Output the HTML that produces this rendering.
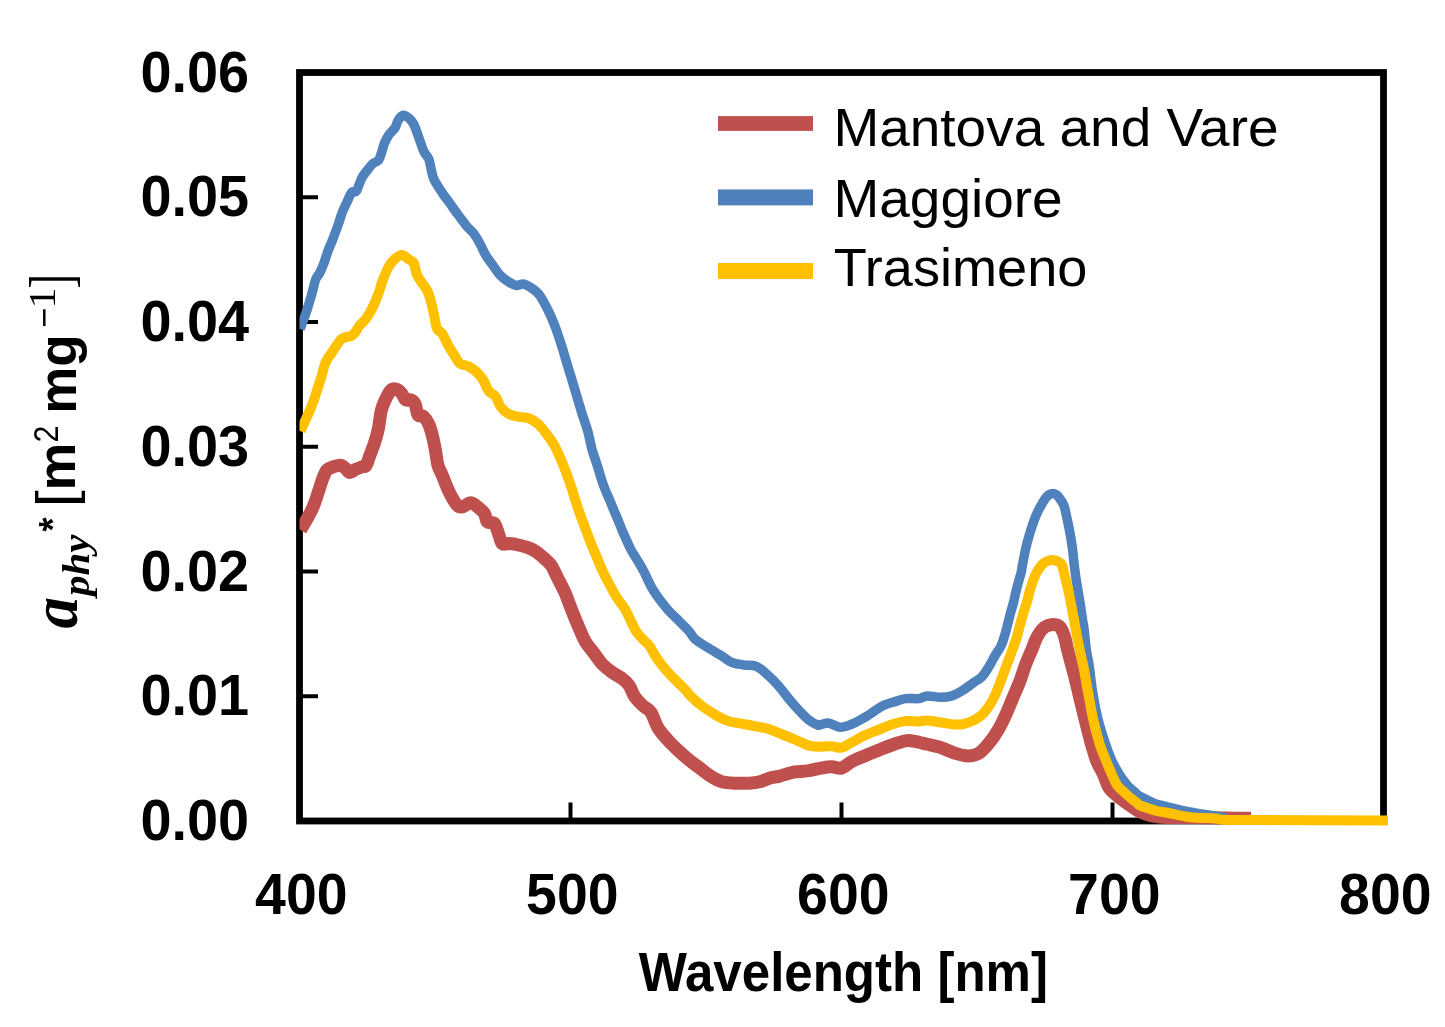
<!DOCTYPE html>
<html><head><meta charset="utf-8"><style>
html,body{margin:0;padding:0;background:#fff;}
svg{display:block;}
text{filter:grayscale(1);}
.t{font-family:"Liberation Sans",sans-serif;font-weight:bold;fill:#000;}
.lg{font-family:"Liberation Sans",sans-serif;font-size:50px;fill:#000;}
</style></head><body>
<svg width="1445" height="1027" viewBox="0 0 1445 1027">
<rect x="0" y="0" width="1445" height="1027" fill="#fff"/>
<g stroke="#000" stroke-width="6.8" fill="none">
<rect x="299.5" y="72.5" width="1084.0" height="748.5"/>
</g>
<g stroke="#000" stroke-width="4"><line x1="299.5" y1="197.25" x2="318.0" y2="197.25"/><line x1="299.5" y1="322.00" x2="318.0" y2="322.00"/><line x1="299.5" y1="446.75" x2="318.0" y2="446.75"/><line x1="299.5" y1="571.50" x2="318.0" y2="571.50"/><line x1="299.5" y1="696.25" x2="318.0" y2="696.25"/><line x1="570.50" y1="821.0" x2="570.50" y2="802.5"/><line x1="841.50" y1="821.0" x2="841.50" y2="802.5"/><line x1="1112.50" y1="821.0" x2="1112.50" y2="802.5"/></g>
<defs><clipPath id="pc"><rect x="299.5" y="0" width="1200" height="1027"/></clipPath></defs>
<g fill="none" stroke-linejoin="round" stroke-linecap="butt" clip-path="url(#pc)">
<path d="M300.5,530.0 C301.1,529.0 302.8,526.1 304.0,524.0 C305.2,521.9 306.4,520.0 308.0,517.1 C309.6,514.2 311.8,509.9 313.3,506.4 C314.8,502.9 316.0,499.0 317.0,496.0 C318.0,493.0 318.5,491.4 319.5,488.5 C320.5,485.6 321.6,481.4 322.8,478.4 C324.0,475.4 325.1,472.3 326.5,470.5 C327.9,468.7 329.9,468.2 331.5,467.5 C333.1,466.8 334.4,466.4 336.0,466.0 C337.6,465.6 339.4,464.9 341.0,465.3 C342.6,465.7 344.2,467.3 345.7,468.5 C347.2,469.7 348.2,472.3 349.8,472.5 C351.4,472.7 353.2,470.4 355.3,469.5 C357.4,468.6 360.3,467.5 362.1,466.8 C363.9,466.1 364.9,467.4 366.2,465.4 C367.5,463.3 368.8,458.1 370.2,454.5 C371.6,450.9 372.9,447.9 374.3,443.6 C375.7,439.3 377.2,434.1 378.4,428.6 C379.5,423.2 380.1,415.7 381.2,410.9 C382.3,406.1 383.6,403.4 385.2,400.0 C386.8,396.6 388.9,392.2 390.7,390.4 C392.5,388.6 394.3,388.6 396.1,389.1 C397.9,389.6 400.0,391.4 401.6,393.2 C403.2,395.0 404.1,398.9 405.7,400.0 C407.3,401.1 409.5,399.3 411.1,400.0 C412.7,400.7 414.1,401.6 415.2,404.1 C416.3,406.6 416.6,413.0 418.0,415.0 C419.4,417.0 421.6,414.7 423.4,416.3 C425.2,417.9 427.3,420.9 428.9,424.5 C430.5,428.1 431.9,433.6 433.0,438.2 C434.1,442.8 434.9,447.3 435.7,451.8 C436.5,456.3 436.9,461.5 438.0,465.4 C439.1,469.3 440.4,471.0 442.3,475.4 C444.2,479.8 446.6,486.8 449.1,491.8 C451.6,496.8 455.0,502.9 457.3,505.4 C459.6,507.9 460.4,507.2 462.7,506.8 C465.0,506.4 468.2,502.5 470.9,502.7 C473.6,502.9 476.8,506.4 479.1,508.2 C481.4,510.0 483.1,511.3 484.5,513.6 C485.9,515.9 485.7,520.2 487.3,521.8 C488.9,523.4 492.3,521.4 494.1,523.2 C495.9,525.0 496.9,529.3 498.2,532.7 C499.5,536.1 500.4,541.8 502.2,543.6 C504.0,545.4 506.4,543.4 509.1,543.6 C511.8,543.8 515.4,544.3 518.6,545.0 C521.8,545.7 525.2,546.6 528.1,547.7 C531.0,548.8 533.6,550.0 536.3,551.8 C539.0,553.6 542.0,556.3 544.5,558.6 C547.0,560.9 549.2,562.5 551.3,565.4 C553.3,568.3 555.6,574.0 556.8,576.3 C557.9,578.6 556.8,576.4 558.2,579.1 C559.6,581.8 562.7,587.5 565.0,592.7 C567.3,597.9 569.5,604.7 571.8,610.4 C574.1,616.1 576.3,621.6 578.6,626.8 C580.9,632.0 582.9,637.5 585.4,641.8 C587.9,646.1 590.9,649.1 593.6,652.7 C596.3,656.3 598.8,660.4 601.8,663.6 C604.8,666.8 607.9,669.3 611.3,671.8 C614.7,674.3 619.2,676.3 622.2,678.6 C625.2,680.9 627.1,682.5 629.1,685.4 C631.1,688.3 632.2,692.9 634.5,696.3 C636.8,699.6 640.0,702.8 642.7,705.5 C645.4,708.2 648.4,708.7 650.9,712.3 C653.4,715.9 655.0,722.8 657.7,727.3 C660.4,731.8 663.9,735.6 667.3,739.5 C670.7,743.4 674.6,747.0 678.2,750.4 C681.8,753.8 685.5,757.0 689.1,760.0 C692.7,763.0 696.4,765.5 700.0,768.2 C703.6,770.9 707.3,774.0 710.9,776.3 C714.5,778.6 717.7,780.6 721.8,781.8 C725.9,782.9 730.8,783.0 735.4,783.2 C740.0,783.4 745.0,783.4 749.1,783.2 C753.2,783.0 756.4,782.7 760.0,781.8 C763.6,780.9 767.7,778.6 770.9,777.7 C774.1,776.8 775.2,777.2 779.0,776.3 C782.8,775.4 788.9,773.1 793.6,772.2 C798.3,771.3 802.8,771.6 807.3,770.9 C811.8,770.2 816.8,768.8 820.9,768.1 C825.0,767.4 828.4,766.8 831.8,766.8 C835.2,766.8 837.9,769.0 841.3,768.1 C844.7,767.2 848.3,763.3 852.2,761.3 C856.1,759.3 860.2,757.7 864.5,755.9 C868.8,754.1 873.6,752.2 878.1,750.4 C882.6,748.6 887.2,746.6 891.8,745.0 C896.3,743.4 902.0,741.6 905.4,740.9 C908.8,740.2 909.9,740.7 912.2,740.9 C914.5,741.1 916.5,741.6 919.0,742.2 C921.5,742.8 923.6,743.4 927.3,744.3 C930.9,745.2 936.4,746.2 940.9,747.7 C945.4,749.2 950.0,751.7 954.5,753.1 C959.0,754.5 964.1,755.9 968.2,755.9 C972.3,755.9 975.7,755.1 979.1,753.1 C982.5,751.1 985.4,747.5 988.6,743.6 C991.8,739.8 995.2,735.0 998.1,730.0 C1001.0,725.0 1003.8,719.1 1006.3,713.6 C1008.8,708.1 1010.8,702.8 1013.1,697.3 C1015.4,691.8 1017.9,686.4 1020.0,680.9 C1022.1,675.4 1023.6,669.8 1025.7,664.3 C1027.8,658.8 1030.7,652.4 1032.5,648.0 C1034.3,643.6 1034.9,641.1 1036.5,638.0 C1038.1,634.9 1040.1,631.6 1042.0,629.5 C1043.9,627.4 1046.0,626.3 1047.9,625.5 C1049.8,624.7 1051.8,624.4 1053.6,624.5 C1055.4,624.6 1057.5,624.9 1059.0,626.0 C1060.5,627.1 1061.4,628.7 1062.5,631.0 C1063.6,633.3 1064.7,637.0 1065.5,640.0 C1066.3,643.0 1066.1,644.0 1067.3,648.7 C1068.5,653.4 1070.8,661.8 1072.5,668.2 C1074.2,674.6 1076.2,682.4 1077.3,687.0 C1078.4,691.6 1078.0,690.4 1079.3,695.8 C1080.6,701.2 1083.0,711.4 1085.0,719.2 C1087.0,727.0 1089.1,735.7 1091.0,742.6 C1092.9,749.5 1094.5,755.1 1096.5,760.4 C1098.5,765.6 1101.2,769.5 1103.3,774.1 C1105.4,778.7 1107.0,784.4 1109.0,787.7 C1111.0,791.0 1112.8,792.0 1115.0,794.0 C1117.2,796.0 1119.5,797.6 1122.0,799.5 C1124.5,801.4 1127.1,803.5 1130.0,805.5 C1132.9,807.5 1136.1,809.9 1139.2,811.5 C1142.3,813.1 1145.6,814.1 1148.5,815.0 C1151.4,815.9 1153.4,816.2 1156.7,816.6 C1160.0,817.0 1161.2,817.2 1168.4,817.4 C1175.6,817.6 1190.6,817.5 1200.0,817.6 C1209.4,817.7 1218.3,817.9 1225.0,818.0 C1231.7,818.1 1235.7,818.2 1240.0,818.3 C1244.3,818.3 1249.2,818.3 1251.0,818.3" stroke="#C0504D" stroke-width="13"/>
<path d="M300.0,329.0 C300.8,327.0 303.3,320.2 304.5,317.0 C305.7,313.8 305.8,313.8 307.0,310.0 C308.2,306.2 310.4,299.1 311.8,294.0 C313.2,288.9 314.4,283.1 315.7,279.5 C317.0,275.9 318.4,275.4 319.8,272.7 C321.2,270.0 322.5,266.8 323.9,263.2 C325.3,259.6 326.6,254.8 328.0,250.9 C329.4,247.0 330.8,244.5 332.5,240.0 C334.2,235.5 336.9,228.4 338.5,223.8 C340.1,219.2 340.9,215.8 342.3,212.2 C343.7,208.6 345.4,205.3 347.0,202.0 C348.6,198.7 350.1,194.1 351.7,192.3 C353.3,190.5 354.8,193.4 356.4,191.1 C358.0,188.8 359.9,181.7 361.6,178.3 C363.4,174.9 365.0,173.1 366.9,170.7 C368.8,168.3 370.8,165.4 372.7,163.7 C374.6,161.9 377.0,162.3 378.6,160.2 C380.2,158.0 381.1,153.6 382.1,150.8 C383.1,148.0 383.2,145.9 384.4,143.2 C385.6,140.5 387.4,137.0 389.1,134.5 C390.9,132.0 393.3,130.4 394.9,128.0 C396.4,125.6 397.0,122.0 398.4,119.9 C399.8,117.8 401.4,115.5 403.1,115.2 C404.9,114.9 407.1,116.6 408.9,118.1 C410.6,119.6 412.2,121.6 413.6,124.0 C415.0,126.4 415.9,129.6 417.1,132.7 C418.3,135.8 419.4,139.5 420.6,142.7 C421.8,145.9 422.7,149.3 424.1,152.0 C425.5,154.7 427.6,156.2 428.8,159.0 C430.0,161.8 430.3,165.7 431.1,168.9 C431.9,172.1 432.2,175.2 433.5,178.3 C434.8,181.4 436.9,184.5 438.6,187.3 C440.3,190.1 441.9,192.4 443.7,195.0 C445.5,197.6 447.6,200.2 449.5,202.8 C451.4,205.4 453.1,208.0 455.0,210.6 C456.9,213.2 458.9,215.8 460.8,218.4 C462.8,221.0 464.5,223.6 466.7,226.2 C468.9,228.8 471.8,230.9 474.1,234.0 C476.4,237.1 478.4,240.9 480.4,244.5 C482.4,248.1 483.8,252.0 485.9,255.4 C487.9,258.8 490.4,261.8 492.7,265.0 C495.0,268.2 497.0,271.8 499.5,274.5 C502.0,277.2 505.0,279.5 507.7,281.3 C510.4,283.1 513.2,284.9 515.9,285.4 C518.6,285.9 521.1,283.4 524.1,284.1 C527.1,284.8 531.1,287.8 533.6,289.5 C536.1,291.2 537.2,292.3 539.0,294.5 C540.8,296.7 542.1,299.1 544.1,302.7 C546.1,306.3 548.9,311.8 550.9,316.4 C552.9,320.9 554.6,325.0 556.4,330.0 C558.2,335.0 560.2,341.3 561.8,346.3 C563.4,351.3 564.5,355.4 565.9,360.0 C567.3,364.6 568.6,369.1 570.0,373.6 C571.4,378.1 572.7,382.6 574.1,387.2 C575.5,391.8 576.8,396.3 578.2,400.9 C579.6,405.4 580.7,409.5 582.3,414.5 C583.9,419.5 586.0,424.9 587.7,430.9 C589.4,436.9 590.6,444.4 592.3,450.4 C594.0,456.4 595.9,461.1 597.7,466.8 C599.5,472.5 601.2,478.8 603.2,484.5 C605.2,490.2 607.7,495.4 610.0,500.9 C612.3,506.3 614.5,511.8 616.8,517.2 C619.1,522.7 621.3,528.4 623.6,533.6 C625.9,538.8 627.9,543.8 630.4,548.6 C632.9,553.4 636.3,558.3 638.6,562.2 C640.9,566.1 641.7,567.3 644.2,572.1 C646.7,576.9 649.7,584.6 653.6,590.8 C657.5,597.0 663.3,604.4 667.6,609.5 C671.9,614.6 675.7,617.5 679.3,621.2 C682.9,624.9 686.7,628.5 689.3,631.5 C691.9,634.5 692.0,636.5 695.0,639.1 C698.0,641.7 703.0,644.6 707.3,647.3 C711.6,650.0 716.8,652.9 720.9,655.4 C725.0,657.9 727.9,660.7 731.8,662.3 C735.7,663.9 740.0,664.3 744.1,665.0 C748.2,665.7 752.4,664.7 756.3,666.3 C760.1,667.9 763.6,671.3 767.2,674.5 C770.8,677.7 774.5,681.3 778.1,685.4 C781.8,689.5 785.7,695.0 789.1,699.1 C792.5,703.2 795.4,706.6 798.6,710.0 C801.8,713.4 804.9,717.0 808.1,719.5 C811.3,722.0 815.6,724.2 817.7,725.0 C819.8,725.8 819.0,724.8 820.9,724.5 C822.8,724.2 825.9,722.7 829.1,723.2 C832.3,723.7 836.4,727.1 840.0,727.3 C843.6,727.5 847.3,725.9 850.9,724.5 C854.5,723.1 858.2,721.1 861.8,719.1 C865.4,717.1 869.1,714.6 872.7,712.3 C876.3,710.0 879.7,707.2 883.6,705.4 C887.5,703.6 892.3,702.5 895.9,701.4 C899.5,700.3 901.5,699.1 905.4,698.6 C909.2,698.1 915.4,699.1 919.0,698.6 C922.6,698.1 923.6,696.1 927.3,695.9 C930.9,695.7 936.8,697.3 940.9,697.3 C945.0,697.3 948.2,697.0 951.8,695.9 C955.4,694.8 959.3,692.4 962.7,690.4 C966.1,688.4 969.0,685.9 972.2,683.6 C975.4,681.3 979.1,679.5 981.8,676.8 C984.5,674.1 986.3,670.9 988.6,667.3 C990.9,663.7 993.3,658.5 995.4,655.0 C997.5,651.5 999.5,649.0 1001.0,646.0 C1002.5,643.0 1003.2,640.2 1004.3,636.7 C1005.4,633.2 1006.5,628.9 1007.5,625.0 C1008.5,621.1 1009.4,617.3 1010.4,613.4 C1011.4,609.5 1012.7,605.6 1013.7,601.7 C1014.7,597.8 1015.1,594.7 1016.3,590.0 C1017.5,585.3 1019.9,577.1 1020.9,573.4 C1021.9,569.7 1021.2,571.8 1022.0,567.6 C1022.8,563.4 1024.5,553.9 1025.8,548.2 C1027.1,542.5 1028.2,538.5 1029.7,533.6 C1031.2,528.7 1033.0,523.2 1034.6,519.0 C1036.2,514.8 1037.7,511.6 1039.5,508.2 C1041.3,504.8 1043.7,500.8 1045.3,498.5 C1046.9,496.2 1047.9,495.4 1049.2,494.6 C1050.5,493.8 1051.9,493.6 1053.1,493.6 C1054.3,493.6 1055.5,494.2 1056.5,494.8 C1057.5,495.4 1057.8,495.8 1059.0,497.5 C1060.2,499.2 1062.5,502.1 1063.8,505.3 C1065.1,508.6 1065.7,512.6 1066.7,517.0 C1067.7,521.4 1068.8,526.4 1069.7,531.6 C1070.7,536.8 1071.7,543.1 1072.4,548.2 C1073.1,553.3 1073.4,557.5 1073.9,562.0 C1074.4,566.5 1074.9,570.5 1075.5,575.0 C1076.1,579.5 1076.9,584.0 1077.7,588.9 C1078.5,593.8 1079.5,599.3 1080.3,604.5 C1081.1,609.7 1081.9,615.9 1082.6,620.1 C1083.2,624.4 1083.6,625.2 1084.2,630.0 C1084.8,634.8 1085.3,642.7 1086.2,649.0 C1087.1,655.3 1088.5,661.0 1089.5,668.0 C1090.5,675.0 1091.1,682.5 1092.5,691.0 C1093.9,699.5 1095.9,710.6 1098.0,719.2 C1100.1,727.8 1102.7,735.7 1105.0,742.6 C1107.3,749.5 1109.3,755.1 1111.7,760.4 C1114.1,765.6 1117.2,770.7 1119.2,774.1 C1121.2,777.5 1122.4,778.9 1124.0,781.0 C1125.6,783.1 1127.0,785.0 1129.0,787.0 C1131.0,789.0 1134.2,791.5 1135.9,793.0 C1137.6,794.5 1136.9,794.7 1139.2,796.0 C1141.5,797.3 1146.6,799.6 1149.5,801.0 C1152.4,802.4 1153.5,803.3 1156.7,804.3 C1159.9,805.3 1162.9,805.7 1168.4,807.0 C1173.9,808.3 1182.1,810.5 1189.8,812.0 C1197.5,813.5 1208.8,815.0 1214.8,816.0 C1220.8,817.0 1224.1,817.7 1226.0,818.0" stroke="#4F81BD" stroke-width="9.5"/>
<path d="M300.5,431.0 C301.2,429.3 303.5,424.4 305.0,421.0 C306.5,417.6 308.0,414.8 309.6,410.9 C311.2,406.9 313.5,401.1 314.8,397.3 C316.1,393.6 316.5,391.8 317.6,388.4 C318.7,385.0 320.2,380.6 321.4,376.7 C322.6,372.8 323.5,368.1 324.6,365.0 C325.7,361.9 326.9,359.9 328.0,358.0 C329.1,356.1 329.8,355.6 331.3,353.4 C332.8,351.2 335.5,346.9 337.1,344.6 C338.7,342.3 339.7,340.7 341.0,339.5 C342.3,338.3 343.3,337.9 345.0,337.3 C346.7,336.7 349.3,336.8 351.0,336.0 C352.7,335.2 353.6,334.2 355.0,332.5 C356.4,330.8 357.4,328.2 359.3,325.9 C361.2,323.5 363.9,321.6 366.2,318.4 C368.5,315.2 371.0,310.9 373.0,306.8 C375.0,302.7 376.8,298.1 378.4,293.8 C380.0,289.5 380.9,285.2 382.5,280.9 C384.1,276.6 386.2,271.4 388.0,268.0 C389.8,264.6 391.1,262.6 393.4,260.4 C395.7,258.2 399.1,255.2 401.6,255.0 C404.1,254.8 406.3,257.7 408.4,259.1 C410.4,260.5 412.5,260.7 413.9,263.2 C415.3,265.7 415.2,270.8 416.6,274.1 C418.0,277.4 420.2,280.1 422.0,282.9 C423.8,285.7 425.9,287.6 427.5,291.1 C429.1,294.6 430.5,299.9 431.6,304.1 C432.7,308.3 433.4,312.2 434.3,316.3 C435.2,320.4 435.7,325.7 437.0,328.6 C438.3,331.5 440.5,331.0 442.3,333.6 C444.1,336.2 445.7,340.9 447.7,344.5 C449.7,348.1 452.4,352.2 454.5,355.4 C456.6,358.6 457.7,361.8 460.0,363.6 C462.3,365.4 465.5,364.9 468.2,366.3 C470.9,367.7 473.8,369.5 476.3,371.8 C478.8,374.1 481.1,376.8 483.2,380.0 C485.2,383.2 486.6,388.2 488.6,390.9 C490.6,393.6 493.3,393.6 495.4,396.3 C497.4,399.0 498.6,404.2 500.9,407.2 C503.2,410.2 506.2,412.5 509.1,414.1 C512.1,415.7 515.4,416.1 518.6,416.8 C521.8,417.5 524.9,417.0 528.1,418.1 C531.3,419.2 534.7,421.1 537.7,423.6 C540.7,426.1 543.4,429.9 545.9,433.1 C548.4,436.3 550.7,439.4 552.7,442.7 C554.7,446.0 556.1,448.5 558.1,453.0 C560.1,457.5 562.7,463.6 565.0,469.5 C567.3,475.4 569.8,482.5 571.8,488.6 C573.8,494.7 574.9,499.4 577.3,506.3 C579.6,513.2 583.6,523.8 585.9,530.0 C588.2,536.2 589.2,539.1 591.0,543.6 C592.8,548.1 594.9,552.7 596.8,557.2 C598.7,561.8 600.5,566.4 602.6,570.9 C604.7,575.4 607.0,580.0 609.4,584.5 C611.8,589.0 614.6,594.0 617.2,598.1 C619.8,602.2 622.8,605.5 625.0,609.1 C627.2,612.8 628.6,616.4 630.4,620.0 C632.2,623.6 633.8,627.7 635.9,630.9 C638.0,634.1 640.4,636.6 642.7,639.1 C645.0,641.6 647.5,643.2 649.5,645.9 C651.5,648.6 653.0,652.2 655.0,655.4 C657.0,658.6 659.3,661.8 661.8,665.0 C664.3,668.2 667.3,671.5 670.0,674.5 C672.7,677.5 675.4,680.0 678.1,682.7 C680.8,685.4 684.2,688.6 686.3,690.9 C688.4,693.2 688.3,693.8 690.9,696.3 C693.5,698.8 697.9,702.9 701.8,705.9 C705.7,708.9 709.8,711.6 714.1,714.1 C718.4,716.6 723.2,719.3 727.7,720.9 C732.2,722.5 736.5,722.7 741.3,723.6 C746.1,724.5 751.8,725.4 756.3,726.3 C760.8,727.2 764.3,727.7 768.6,729.1 C772.9,730.5 777.7,732.7 782.2,734.5 C786.8,736.3 791.6,738.2 795.9,740.0 C800.2,741.8 804.5,744.3 808.1,745.4 C811.7,746.5 813.8,746.6 817.7,746.8 C821.7,746.9 827.9,746.1 831.8,746.3 C835.7,746.4 837.9,748.4 841.3,747.7 C844.7,747.0 848.3,744.2 852.2,742.2 C856.1,740.2 860.2,737.4 864.5,735.4 C868.8,733.4 873.6,731.8 878.1,730.0 C882.6,728.2 887.2,726.0 891.8,724.5 C896.3,723.0 900.9,721.6 905.4,721.1 C909.9,720.6 915.4,721.6 919.0,721.5 C922.6,721.4 923.6,720.2 927.3,720.4 C930.9,720.6 936.4,721.8 940.9,722.5 C945.4,723.2 950.6,724.3 954.5,724.5 C958.4,724.7 960.9,724.5 964.1,723.8 C967.3,723.1 970.7,721.9 973.6,720.4 C976.5,718.9 979.3,717.3 981.8,715.0 C984.3,712.7 986.3,710.2 988.6,706.8 C990.9,703.4 993.4,698.8 995.4,694.5 C997.4,690.2 999.0,685.9 1000.9,680.9 C1002.8,675.9 1005.0,669.7 1007.0,664.3 C1009.0,658.9 1011.3,652.9 1013.0,648.3 C1014.7,643.7 1015.8,640.6 1017.0,636.7 C1018.2,632.8 1019.0,628.9 1020.0,625.0 C1021.0,621.1 1022.1,617.3 1023.3,613.4 C1024.5,609.5 1025.8,605.8 1027.0,601.7 C1028.2,597.6 1028.8,593.6 1030.3,588.9 C1031.8,584.2 1034.2,577.4 1036.1,573.4 C1038.0,569.4 1040.1,566.8 1041.9,564.8 C1043.7,562.8 1045.2,562.0 1047.0,561.2 C1048.8,560.4 1050.7,560.0 1052.5,560.0 C1054.3,560.0 1056.4,560.7 1058.0,561.5 C1059.6,562.3 1061.0,563.0 1062.0,565.0 C1063.0,567.0 1063.1,569.4 1064.1,573.4 C1065.1,577.4 1066.8,583.7 1068.0,588.9 C1069.2,594.1 1070.1,599.3 1071.1,604.5 C1072.1,609.7 1073.4,616.2 1074.1,620.1 C1074.8,624.0 1074.5,623.1 1075.4,627.9 C1076.3,632.7 1078.1,642.3 1079.5,649.0 C1080.9,655.7 1082.3,661.0 1083.7,668.0 C1085.1,675.0 1086.2,682.5 1087.8,691.0 C1089.4,699.5 1091.2,710.6 1093.1,719.2 C1095.0,727.8 1097.1,735.7 1099.2,742.6 C1101.3,749.5 1103.8,755.1 1105.9,760.4 C1108.0,765.6 1109.9,770.0 1111.7,774.1 C1113.5,778.2 1115.2,782.3 1117.0,785.0 C1118.8,787.7 1120.1,788.4 1122.3,790.5 C1124.5,792.6 1127.7,795.6 1130.0,797.5 C1132.3,799.4 1134.4,800.8 1135.9,802.0 C1137.4,803.2 1137.1,803.9 1139.2,805.0 C1141.3,806.1 1145.6,807.5 1148.5,808.5 C1151.4,809.5 1153.4,810.2 1156.7,811.0 C1160.0,811.8 1162.9,812.0 1168.4,813.0 C1173.9,814.0 1182.1,816.3 1189.8,817.2 C1197.5,818.1 1206.5,818.0 1214.8,818.5 C1223.1,819.0 1210.8,819.7 1239.7,820.0 C1268.6,820.3 1363.3,820.3 1388.0,820.4" stroke="#FFC000" stroke-width="10"/>
</g>
<g class="t"><text transform="translate(140.4,91.52) scale(0.5586,0.576)" font-size="100">0.06</text><text transform="translate(140.4,216.27) scale(0.5586,0.576)" font-size="100">0.05</text><text transform="translate(140.4,341.02) scale(0.5586,0.576)" font-size="100">0.04</text><text transform="translate(140.4,465.77) scale(0.5586,0.576)" font-size="100">0.03</text><text transform="translate(140.4,590.52) scale(0.5586,0.576)" font-size="100">0.02</text><text transform="translate(140.4,715.27) scale(0.5586,0.576)" font-size="100">0.01</text><text transform="translate(140.4,840.02) scale(0.5586,0.576)" font-size="100">0.00</text><text transform="translate(255.10,913.8) scale(0.554,0.570)" font-size="100">400</text><text transform="translate(526.10,913.8) scale(0.554,0.570)" font-size="100">500</text><text transform="translate(797.10,913.8) scale(0.554,0.570)" font-size="100">600</text><text transform="translate(1068.10,913.8) scale(0.554,0.570)" font-size="100">700</text><text transform="translate(1339.10,913.8) scale(0.554,0.570)" font-size="100">800</text><text transform="translate(638.70,991.00) scale(0.5104,0.5520)" font-family="Liberation Sans" font-weight="bold" font-style="normal" font-size="100">Wavelength [nm]</text></g>
<rect x="718" y="116.1" width="95" height="14.8" fill="#C0504D"/>
<rect x="718" y="189.4" width="95" height="16" fill="#4F81BD"/>
<rect x="718" y="263" width="95" height="16" fill="#FFC000"/>
<g fill="#000"><text transform="translate(833.40,146.20) scale(0.5498,0.5350)" font-family="Liberation Sans" font-weight="normal" font-style="normal" font-size="100">Mantova and Vare</text><text transform="translate(833.40,216.50) scale(0.5500,0.5350)" font-family="Liberation Sans" font-weight="normal" font-style="normal" font-size="100">Maggiore</text><text transform="translate(833.80,286.30) scale(0.5410,0.5350)" font-family="Liberation Sans" font-weight="normal" font-style="normal" font-size="100">Trasimeno</text></g>
<g transform="translate(76,628) rotate(-90)" fill="#000"><text transform="translate(-0.43,1.13) scale(0.6280,0.6580)" font-family="Liberation Serif" font-weight="bold" font-style="italic" font-size="100">a</text><text transform="translate(31.97,13.20) scale(0.4096,0.3740)" font-family="Liberation Serif" font-weight="bold" font-style="italic" font-size="100">phy</text><text transform="translate(96.40,-9.75) scale(0.3590,0.3950)" font-family="Liberation Sans" font-weight="bold" font-style="normal" font-size="100">*</text><text transform="translate(120.40,-2.50) scale(0.6250,0.5370)" font-family="Liberation Sans" font-weight="normal" font-style="normal" font-size="100">[</text><text transform="translate(137.60,-0.80) scale(0.5380,0.5410)" font-family="Liberation Sans" font-weight="bold" font-style="normal" font-size="100">m</text><text transform="translate(185.50,-17.70) scale(0.3040,0.3430)" font-family="Liberation Sans" font-weight="normal" font-style="normal" font-size="100">2</text><text transform="translate(214.30,-0.07) scale(0.5290,0.5450)" font-family="Liberation Sans" font-weight="bold" font-style="normal" font-size="100">mg</text><text transform="translate(300.00,-15.35) scale(0.3620,0.5000)" font-family="Liberation Serif" font-weight="normal" font-style="normal" font-size="100">&#8722;</text><text transform="translate(319.40,-21.00) scale(0.4200,0.3880)" font-family="Liberation Serif" font-weight="normal" font-style="normal" font-size="100">1</text><text transform="translate(339.60,-4.00) scale(0.4320,0.6070)" font-family="Liberation Serif" font-weight="normal" font-style="normal" font-size="100">]</text></g>
</svg>
</body></html>
